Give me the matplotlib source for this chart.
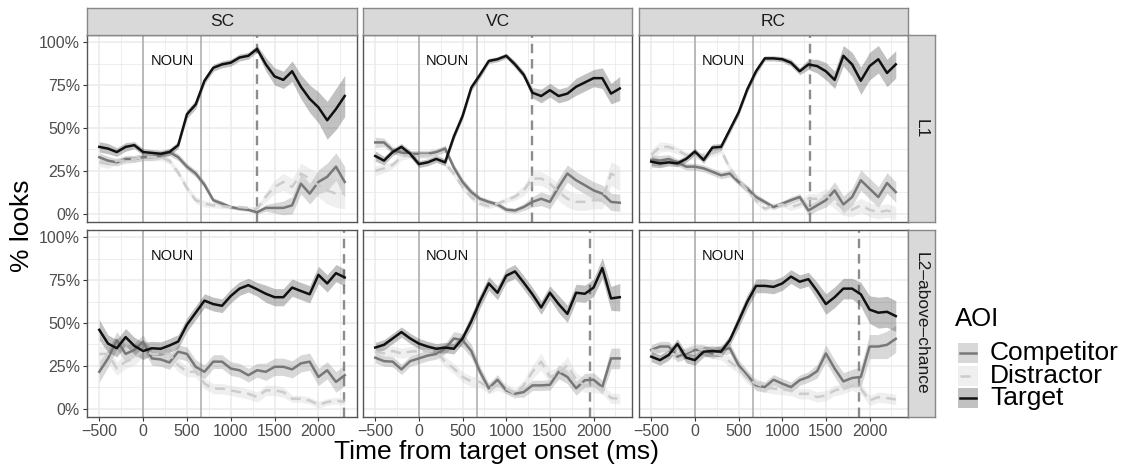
import matplotlib

matplotlib.use("Agg")
import matplotlib.pyplot as plt
import numpy as np

plt.rcParams["font.family"] = ["Liberation Sans", "DejaVu Sans"]

W, H = 1125, 470

time_ms = list(range(-500, 2301, 100))
aois = ["Competitor", "Distractor", "Target"]
constructions = ["SC", "VC", "RC"]
groups = ["L1", "L2\u2013above\u2013chance"]
noun_onset = 660
sentence_end = {("SC", "L1"): 1300, ("VC", "L1"): 1290, ("RC", "L1"): 1315,
                ("SC", "L2"): 2290, ("VC", "L2"): 1955, ("RC", "L2"): 1880}

# ---- L1 ----
sc_l1_comp = [.33, .31, .30, .32, .32, .33, .33, .34, .36, .33, .275, .235, .17, .08, .06, .04, .03, .024, .01,
              .035, .035, .035, .05, .176, .118, .186, .216, .275, .186]
sc_l1_dist = [.30, .29, .31, .31, .32, .33, .33, .33, .31, .24, .15, .08, .06, .05, .045, .04, .04, .035, .03,
              .10, .157, .186, .157, .235, .206, .167, .137, .118, .12]
sc_l1_targ = [.39, .38, .36, .39, .40, .36, .355, .35, .36, .40, .58, .637, .775, .85, .87, .88, .91, .92, .96,
              .87, .80, .78, .83, .74, .67, .62, .545, .61, .686]
sc_l1_comp_se = [.025, .025, .02, .02, .02, .02, .02, .02, .02, .02, .02, .02, .02, .015, .015, .01, .01, .01, .01,
                 .02, .03, .04, .05, .06, .06, .07, .08, .08, .09]
sc_l1_dist_se = [.025, .025, .02, .02, .02, .02, .02, .02, .02, .02, .02, .02, .02, .015, .015, .01, .01, .01, .01,
                 .03, .04, .05, .05, .06, .06, .07, .08, .08, .09]
sc_l1_targ_se = [.03, .03, .025, .025, .02, .02, .02, .02, .02, .02, .025, .025, .02, .02, .02, .02, .02, .02, .02,
                 .04, .05, .05, .06, .07, .08, .09, .11, .12, .12]

vc_l1_comp = [.416, .416, .37, .357, .35, .35, .35, .36, .38, .27, .186, .127, .088, .07, .055, .025, .02, .04, .07,
              .088, .07, .157, .235, .196, .167, .137, .118, .07, .065]
vc_l1_dist = [.25, .265, .285, .333, .343, .343, .343, .333, .294, .235, .157, .098, .06, .045, .06, .08, .10, .137,
              .206, .206, .176, .127, .088, .07, .07, .08, .08, .235, .206]
vc_l1_targ = [.337, .31, .36, .39, .35, .29, .30, .32, .30, .45, .57, .735, .81, .89, .90, .92, .87, .81, .705,
              .686, .72, .686, .70, .74, .765, .79, .79, .70, .73]
vc_l1_comp_se = [.03, .025, .02, .02, .02, .02, .02, .02, .02, .02, .02, .02, .015, .015, .015, .015, .015, .02, .03,
                 .04, .04, .05, .05, .05, .05, .05, .05, .05, .05]
vc_l1_dist_se = [.03, .025, .02, .02, .02, .02, .02, .02, .02, .02, .02, .02, .015, .015, .015, .015, .02, .03, .04,
                 .04, .04, .05, .05, .05, .05, .05, .05, .07, .07]
vc_l1_targ_se = [.03, .025, .02, .02, .02, .02, .02, .02, .02, .02, .02, .02, .02, .015, .015, .015, .02, .02, .03,
                 .04, .04, .04, .04, .05, .05, .05, .06, .06, .07]

rc_l1_comp = [.314, .31, .32, .30, .275, .275, .265, .245, .225, .235, .186, .147, .098, .07, .04, .06, .08, .098, .02,
              .05, .08, .137, .055, .098, .196, .147, .098, .18, .127]
rc_l1_dist = [.343, .39, .39, .37, .343, .333, .343, .353, .37, .265, .196, .137, .078, .03, .05, .055, .04, .055,
              .088, .088, .108, .07, .03, .024, .05, .024, .01, .02, .004]
rc_l1_targ = [.304, .294, .30, .294, .32, .363, .314, .386, .39, .49, .59, .725, .83, .905, .905, .90, .88, .83, .87,
              .86, .83, .78, .92, .87, .775, .86, .90, .82, .87]
rc_l1_comp_se = [.03, .03, .025, .02, .02, .02, .02, .02, .02, .02, .02, .02, .02, .015, .015, .015, .02, .02, .03,
                 .03, .04, .05, .05, .05, .06, .06, .06, .06, .06]
rc_l1_dist_se = [.03, .03, .025, .02, .02, .02, .02, .02, .02, .02, .02, .02, .02, .015, .015, .015, .02, .02, .03,
                 .03, .04, .04, .04, .04, .04, .04, .04, .04, .04]
rc_l1_targ_se = [.03, .025, .02, .02, .02, .02, .02, .02, .02, .02, .02, .02, .02, .015, .015, .015, .02, .02, .03,
                 .04, .05, .05, .06, .07, .08, .08, .08, .08, .08]

# ---- L2-above-chance ----
sc_l2_comp = [.216, .294, .40, .32, .343, .392, .294, .288, .27, .333, .32, .245, .216, .275, .275, .235, .225, .196,
              .225, .216, .245, .245, .23, .265, .275, .186, .225, .157, .196]
sc_l2_dist = [.32, .32, .235, .275, .294, .343, .32, .32, .32, .255, .216, .216, .147, .118, .118, .108, .098, .088,
              .069, .108, .108, .098, .059, .059, .049, .024, .04, .049, .04]
sc_l2_targ = [.46, .38, .353, .418, .367, .337, .353, .35, .369, .392, .49, .56, .63, .61, .60, .657, .70, .72, .696,
              .67, .65, .65, .706, .686, .667, .78, .73, .79, .765]
sc_l2_comp_se = [.06, .05, .05, .05, .04, .04, .04, .04, .04, .04, .04, .04, .04, .04, .04, .04, .04, .04, .04,
                 .05, .05, .05, .05, .05, .05, .05, .05, .06, .06]
sc_l2_dist_se = [.05, .05, .04, .04, .04, .04, .04, .04, .04, .04, .03, .03, .03, .03, .03, .03, .03, .03, .03,
                 .03, .03, .03, .02, .02, .02, .02, .02, .02, .02]
sc_l2_targ_se = [.06, .05, .05, .05, .05, .05, .04, .04, .04, .04, .04, .04, .04, .04, .04, .04, .04, .04, .04,
                 .05, .05, .05, .05, .05, .05, .05, .05, .05, .05]

vc_l2_comp = [.298, .278, .275, .23, .278, .294, .31, .32, .35, .41, .40, .337, .216, .12, .17, .108, .088, .098, .137,
              .137, .14, .216, .186, .12, .167, .17, .127, .294, .294]
vc_l2_dist = [.333, .323, .337, .323, .333, .337, .337, .333, .275, .235, .186, .16, .157, .118, .137, .118, .088,
              .137, .216, .275, .186, .206, .255, .17, .137, .137, .118, .063, .059]
vc_l2_targ = [.357, .373, .41, .447, .41, .38, .363, .35, .357, .35, .41, .51, .627, .73, .676, .775, .80, .735, .667,
              .59, .676, .61, .553, .676, .67, .706, .82, .643, .65]
vc_l2_comp_se = [.03, .03, .03, .03, .03, .03, .03, .03, .03, .04, .04, .04, .03, .03, .03, .02, .02, .03, .03,
                 .03, .03, .04, .04, .04, .04, .04, .04, .06, .06]
vc_l2_dist_se = [.03, .03, .03, .03, .03, .03, .03, .03, .03, .03, .03, .03, .03, .03, .03, .03, .03, .03, .04,
                 .05, .04, .04, .05, .04, .04, .04, .03, .03, .03]
vc_l2_targ_se = [.03, .03, .03, .03, .03, .03, .03, .03, .03, .03, .03, .04, .04, .04, .04, .04, .04, .04, .04,
                 .04, .04, .05, .05, .05, .05, .05, .06, .07, .08]

rc_l2_comp = [.343, .363, .363, .304, .323, .343, .343, .323, .343, .353, .255, .196, .137, .127, .17, .147, .127,
              .167, .186, .22, .323, .235, .16, .18, .186, .363, .363, .373, .408]
rc_l2_dist = [.343, .333, .323, .314, .333, .353, .343, .323, .314, .275, .235, .176, .147, .127, .118, .112, .108,
              .088, .088, .069, .078, .108, .118, .137, .118, .049, .069, .063, .055]
rc_l2_targ = [.304, .284, .314, .378, .298, .284, .333, .337, .333, .40, .51, .624, .716, .716, .71, .73, .77, .74,
              .755, .686, .61, .65, .70, .70, .667, .578, .56, .565, .54]
rc_l2_comp_se = [.03, .03, .03, .03, .03, .03, .03, .03, .03, .03, .03, .03, .03, .03, .03, .03, .03, .03, .03,
                 .04, .05, .05, .05, .05, .06, .07, .07, .08, .08]
rc_l2_dist_se = [.03, .03, .03, .03, .03, .03, .03, .03, .03, .03, .03, .03, .03, .03, .03, .03, .03, .03, .03,
                 .03, .03, .03, .03, .03, .03, .03, .03, .03, .03]
rc_l2_targ_se = [.03, .03, .03, .03, .03, .03, .03, .03, .03, .03, .04, .04, .04, .04, .04, .04, .04, .04, .04,
                 .05, .06, .06, .06, .06, .07, .08, .09, .09, .09]

panels = {
    ("SC", "L1"): (sc_l1_comp, sc_l1_dist, sc_l1_targ, sc_l1_comp_se, sc_l1_dist_se, sc_l1_targ_se),
    ("VC", "L1"): (vc_l1_comp, vc_l1_dist, vc_l1_targ, vc_l1_comp_se, vc_l1_dist_se, vc_l1_targ_se),
    ("RC", "L1"): (rc_l1_comp, rc_l1_dist, rc_l1_targ, rc_l1_comp_se, rc_l1_dist_se, rc_l1_targ_se),
    ("SC", "L2"): (sc_l2_comp, sc_l2_dist, sc_l2_targ, sc_l2_comp_se, sc_l2_dist_se, sc_l2_targ_se),
    ("VC", "L2"): (vc_l2_comp, vc_l2_dist, vc_l2_targ, vc_l2_comp_se, vc_l2_dist_se, vc_l2_targ_se),
    ("RC", "L2"): (rc_l2_comp, rc_l2_dist, rc_l2_targ, rc_l2_comp_se, rc_l2_dist_se, rc_l2_targ_se),
}

line_colors = {"Competitor": "#777777", "Distractor": "#cccccc", "Target": "#111111"}
fill_colors = {"Competitor": "#7f7f7f", "Distractor": "#cccccc", "Target": "#333333"}
line_styles = {"Competitor": "-", "Distractor": (0, (4, 2.5)), "Target": "-"}
FILL_ALPHA = 0.3

col_x = [(87, 357), (363, 632), (639, 908)]
row_y = [(35, 222), (230, 417)]
strip_top = 8
strip_right = 935
border = "#555555"


def rect(x0, y0, x1, y1):
    return [x0 / W, 1 - y1 / H, (x1 - x0) / W, (y1 - y0) / H]


fig = plt.figure(figsize=(W / 100, H / 100), dpi=100)

t = np.array(time_ms)
for ci, cons in enumerate(constructions):
    for ri, grp in enumerate(["L1", "L2"]):
        x0, x1 = col_x[ci]
        y0, y1 = row_y[ri]
        ax = fig.add_axes(rect(x0, y0, x1, y1))
        ax.set_xlim(-640, 2440)
        ax.set_ylim(-0.047, 1.041)
        ax.set_xticks(range(-500, 2001, 500))
        ax.set_xticks(range(-250, 2251, 500), minor=True)
        ax.set_yticks([0, .25, .5, .75, 1])
        ax.set_yticks([.125, .375, .625, .875], minor=True)
        ax.grid(True, which="major", color="#ebebeb", lw=1.1)
        ax.grid(True, which="minor", color="#ebebeb", lw=0.6)
        ax.set_axisbelow(True)
        for s in ax.spines.values():
            s.set_color(border)
            s.set_linewidth(1.0)
        ax.tick_params(which="minor", length=0)
        ax.tick_params(which="major", length=3, width=0.8, color="#333333",
                       labelsize=11.5, labelcolor="#4d4d4d", pad=2)
        if ci == 0:
            ax.set_yticklabels(["0%", "25%", "50%", "75%", "100%"])
        else:
            ax.tick_params(axis="y", which="major", length=0, labelleft=False)
        if ri == 1:
            ax.set_xticklabels([str(v).replace("-", "\u2212") for v in range(-500, 2001, 500)])
        else:
            ax.tick_params(axis="x", which="major", length=0, labelbottom=False)

        ax.axvline(0, color="#aaaaaa", lw=1.1, zorder=1.5)
        ax.axvline(noun_onset, color="#aaaaaa", lw=1.1, zorder=1.5)
        ax.axvline(sentence_end[(cons, grp)], color="#8c8c8c", lw=1.7,
                   ls=(0, (4, 2.5)), zorder=1.6)
        ax.text(330, 0.89, "NOUN", ha="center", va="center", fontsize=10.5, color="#111111")

        vals = panels[(cons, grp)]
        means, ses = vals[:3], vals[3:]
        for aoi, m, se in zip(aois, means, ses):
            m = np.array(m)
            se = np.array(se)
            ax.fill_between(t, m - se, m + se, color=fill_colors[aoi], alpha=FILL_ALPHA,
                            lw=0, zorder=2)
        for aoi, m in zip(aois, means):
            ax.plot(t, m, color=line_colors[aoi], ls=line_styles[aoi], lw=1.8, zorder=3)

# column strips
for ci, cons in enumerate(constructions):
    x0, x1 = col_x[ci]
    sax = fig.add_axes(rect(x0, strip_top, x1, row_y[0][0]))
    sax.set_facecolor("#d9d9d9")
    sax.set_xticks([])
    sax.set_yticks([])
    for s in sax.spines.values():
        s.set_color("#888888")
        s.set_linewidth(1.0)
    sax.text(0.5, 0.5, cons, ha="center", va="center", fontsize=12.5, color="#1a1a1a",
             transform=sax.transAxes)

# row strips
for ri, grp in enumerate(groups):
    y0, y1 = row_y[ri]
    sax = fig.add_axes(rect(col_x[2][1], y0, strip_right, y1))
    sax.set_facecolor("#d9d9d9")
    sax.set_xticks([])
    sax.set_yticks([])
    for s in sax.spines.values():
        s.set_color("#888888")
        s.set_linewidth(1.0)
    sax.text(0.5, 0.5, grp, ha="center", va="center", fontsize=12.5, color="#1a1a1a",
             rotation=-90, transform=sax.transAxes)

fig.text(497 / W, 1 - 452 / H, "Time from target onset (ms)", ha="center", va="center", fontsize=19)
fig.text(22 / W, 1 - 226 / H, "% looks", ha="center", va="center", fontsize=19, rotation=90)

# legend
lax = fig.add_axes([0, 0, 1, 1], facecolor="none")
lax.set_xlim(0, W)
lax.set_ylim(H, 0)
lax.axis("off")
lax.text(955, 319, "AOI", ha="left", va="center", fontsize=18.5)
key_centers = [353, 376, 398]
for aoi, yc in zip(aois, key_centers):
    lax.add_patch(plt.Rectangle((958, yc - 10), 20, 20, facecolor=fill_colors[aoi],
                                alpha=FILL_ALPHA, lw=0))
    lax.plot([960, 976], [yc, yc], color=line_colors[aoi], ls=line_styles[aoi], lw=1.8)
    lax.text(990, yc, aoi, ha="left", va="center", fontsize=19)

fig.savefig("out.png", dpi=100)
